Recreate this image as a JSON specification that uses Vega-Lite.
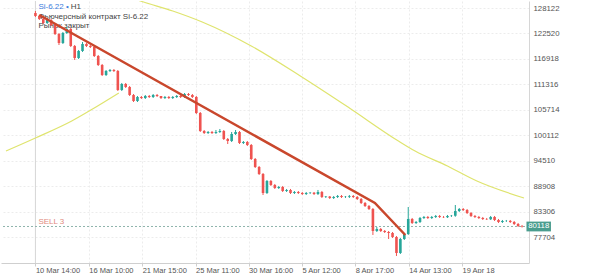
{
"$schema":"https://vega.github.io/schema/vega-lite/v6.json",
"width":528,"height":262,"padding":0,"autosize":{"type":"pad"},
"background":"white",
"config":{"view":{"stroke":null},"font":"Liberation Sans",
 "axis":{"labelOverlap":false,"labelFlush":false,"gridColor":"#ececec","gridDash":[2,2],"grid":true,"title":null,"labelColor":"#555555"},
 "axisY":{"labelOverlap":false,"labelFontSize":7.8,"labelPadding":4,"ticks":false,"domainColor":"#d6d6d6"},
 "axisX":{"labelOverlap":false,"labelFontSize":7.5,"labelPadding":0,"tickSize":3,"tickColor":"#cfcfcf","domainColor":"#cfcfcf"}},
"datasets":{
"candles":[
{"i":0,"o":127020,"h":127460,"l":126150,"c":126370},
{"i":1,"o":126370,"h":126600,"l":125490,"c":125710},
{"i":2,"o":125710,"h":125930,"l":124600,"c":124830},
{"i":3,"o":124830,"h":125710,"l":124610,"c":125490},
{"i":4,"o":125490,"h":125700,"l":124170,"c":124390},
{"i":5,"o":124390,"h":124600,"l":122190,"c":122410},
{"i":6,"o":122410,"h":122630,"l":119990,"c":120430},
{"i":7,"o":120430,"h":122850,"l":120210,"c":122630},
{"i":8,"o":122630,"h":123950,"l":122410,"c":123510},
{"i":9,"o":123510,"h":123730,"l":119550,"c":119770},
{"i":10,"o":119770,"h":119990,"l":116700,"c":117140},
{"i":11,"o":117140,"h":118900,"l":116920,"c":118680},
{"i":12,"o":118680,"h":120650,"l":118460,"c":120210},
{"i":13,"o":120210,"h":120430,"l":119550,"c":119770},
{"i":14,"o":119770,"h":119990,"l":119330,"c":119550},
{"i":15,"o":119550,"h":119770,"l":117360,"c":117580},
{"i":16,"o":117580,"h":117800,"l":115380,"c":115600},
{"i":17,"o":115600,"h":115820,"l":113180,"c":113400},
{"i":18,"o":113400,"h":114500,"l":113180,"c":114280},
{"i":19,"o":114280,"h":114720,"l":114060,"c":114500},
{"i":20,"o":114500,"h":114720,"l":114060,"c":114280},
{"i":21,"o":114280,"h":114500,"l":109890,"c":110110},
{"i":22,"o":110110,"h":111650,"l":109890,"c":111430},
{"i":23,"o":111430,"h":111650,"l":110550,"c":110770},
{"i":24,"o":110770,"h":110990,"l":108790,"c":109010},
{"i":25,"o":109010,"h":109230,"l":107470,"c":107690},
{"i":26,"o":107690,"h":108790,"l":107470,"c":108570},
{"i":27,"o":108570,"h":108790,"l":108130,"c":108350},
{"i":28,"o":108350,"h":109010,"l":108130,"c":108790},
{"i":29,"o":108790,"h":109010,"l":108350,"c":108570},
{"i":30,"o":108570,"h":109230,"l":108350,"c":109010},
{"i":31,"o":109010,"h":109230,"l":108570,"c":108790},
{"i":32,"o":108790,"h":108790,"l":108130,"c":108350},
{"i":33,"o":108350,"h":108790,"l":108130,"c":108570},
{"i":34,"o":108570,"h":108790,"l":108130,"c":108350},
{"i":35,"o":108350,"h":108790,"l":108130,"c":108570},
{"i":36,"o":108570,"h":109010,"l":108350,"c":108790},
{"i":37,"o":108790,"h":109010,"l":108350,"c":108570},
{"i":38,"o":108570,"h":109450,"l":108350,"c":109230},
{"i":39,"o":109230,"h":109450,"l":108790,"c":109010},
{"i":40,"o":109010,"h":109230,"l":108350,"c":108570},
{"i":41,"o":108570,"h":108790,"l":104830,"c":105050},
{"i":42,"o":105050,"h":105270,"l":100880,"c":101100},
{"i":43,"o":101100,"h":101320,"l":100440,"c":100660},
{"i":44,"o":100660,"h":101100,"l":100440,"c":100880},
{"i":45,"o":100880,"h":101100,"l":100440,"c":100660},
{"i":46,"o":100660,"h":101320,"l":100440,"c":100880},
{"i":47,"o":100880,"h":101540,"l":100660,"c":101100},
{"i":48,"o":101100,"h":101320,"l":99120,"c":99340},
{"i":49,"o":99340,"h":99560,"l":98240,"c":98900},
{"i":50,"o":98900,"h":100880,"l":98680,"c":100440},
{"i":51,"o":100440,"h":101320,"l":100220,"c":100880},
{"i":52,"o":100880,"h":101100,"l":98240,"c":98460},
{"i":53,"o":98460,"h":98900,"l":98240,"c":98680},
{"i":54,"o":98680,"h":98900,"l":97800,"c":98020},
{"i":55,"o":98020,"h":98240,"l":94730,"c":94950},
{"i":56,"o":94950,"h":95170,"l":92970,"c":93190},
{"i":57,"o":93190,"h":93410,"l":91430,"c":91650},
{"i":58,"o":91650,"h":91870,"l":87040,"c":87480},
{"i":59,"o":87480,"h":90330,"l":87260,"c":90110},
{"i":60,"o":90110,"h":90330,"l":89020,"c":89240},
{"i":61,"o":89240,"h":89460,"l":88360,"c":88580},
{"i":62,"o":88580,"h":89020,"l":88360,"c":88800},
{"i":63,"o":88800,"h":89020,"l":87700,"c":87920},
{"i":64,"o":87920,"h":88360,"l":87700,"c":88140},
{"i":65,"o":88140,"h":88360,"l":87260,"c":87480},
{"i":66,"o":87480,"h":87920,"l":87260,"c":87700},
{"i":67,"o":87700,"h":87920,"l":87260,"c":87480},
{"i":68,"o":87480,"h":87700,"l":87040,"c":87260},
{"i":69,"o":87260,"h":87700,"l":87040,"c":87480},
{"i":70,"o":87480,"h":87700,"l":87260,"c":87540},
{"i":71,"o":87540,"h":87700,"l":87040,"c":87260},
{"i":72,"o":87260,"h":88140,"l":87040,"c":87700},
{"i":73,"o":87700,"h":87920,"l":86380,"c":86600},
{"i":74,"o":86600,"h":86820,"l":86380,"c":86700},
{"i":75,"o":86700,"h":86820,"l":86160,"c":86380},
{"i":76,"o":86380,"h":86820,"l":86160,"c":86600},
{"i":77,"o":86600,"h":87040,"l":86380,"c":86820},
{"i":78,"o":86820,"h":87040,"l":86380,"c":86600},
{"i":79,"o":86600,"h":86820,"l":86380,"c":86650},
{"i":80,"o":86650,"h":87040,"l":86380,"c":86820},
{"i":81,"o":86820,"h":87040,"l":86380,"c":86600},
{"i":82,"o":86600,"h":86820,"l":85940,"c":86160},
{"i":83,"o":86160,"h":86380,"l":85060,"c":85280},
{"i":84,"o":85280,"h":85500,"l":84400,"c":84620},
{"i":85,"o":84620,"h":84840,"l":83740,"c":83960},
{"i":86,"o":83960,"h":84180,"l":78250,"c":79130},
{"i":87,"o":79130,"h":80010,"l":78910,"c":79570},
{"i":88,"o":79570,"h":79790,"l":78910,"c":79130},
{"i":89,"o":79130,"h":79350,"l":78690,"c":78910},
{"i":90,"o":78910,"h":79130,"l":77370,"c":78690},
{"i":91,"o":78690,"h":78910,"l":77590,"c":77810},
{"i":92,"o":77810,"h":78030,"l":73640,"c":74300},
{"i":93,"o":74300,"h":77590,"l":74080,"c":77370},
{"i":94,"o":77370,"h":78690,"l":77150,"c":78470},
{"i":95,"o":78470,"h":84400,"l":78250,"c":81770},
{"i":96,"o":81770,"h":81990,"l":80670,"c":80890},
{"i":97,"o":80890,"h":81330,"l":80670,"c":81110},
{"i":98,"o":81110,"h":82210,"l":80890,"c":81990},
{"i":99,"o":81990,"h":82430,"l":81770,"c":82210},
{"i":100,"o":82210,"h":82430,"l":81770,"c":81990},
{"i":101,"o":81990,"h":82430,"l":81770,"c":82210},
{"i":102,"o":82210,"h":82650,"l":81990,"c":82420},
{"i":103,"o":82420,"h":82650,"l":81990,"c":82210},
{"i":104,"o":82210,"h":82430,"l":81990,"c":82150},
{"i":105,"o":82150,"h":82650,"l":81990,"c":82420},
{"i":106,"o":82420,"h":82650,"l":82210,"c":82480},
{"i":107,"o":82480,"h":84840,"l":82260,"c":83520},
{"i":108,"o":83520,"h":84180,"l":83300,"c":83960},
{"i":109,"o":83960,"h":84180,"l":83520,"c":83740},
{"i":110,"o":83740,"h":83960,"l":82860,"c":83080},
{"i":111,"o":83080,"h":83300,"l":82210,"c":82420},
{"i":112,"o":82420,"h":82650,"l":81990,"c":82210},
{"i":113,"o":82210,"h":82430,"l":81770,"c":81990},
{"i":114,"o":81990,"h":82210,"l":81550,"c":81770},
{"i":115,"o":81770,"h":81990,"l":81550,"c":81700},
{"i":116,"o":81700,"h":82430,"l":81550,"c":82210},
{"i":117,"o":82210,"h":82430,"l":81330,"c":81550},
{"i":118,"o":81550,"h":81770,"l":80890,"c":81110},
{"i":119,"o":81110,"h":81550,"l":80890,"c":81330},
{"i":120,"o":81330,"h":81550,"l":81110,"c":81350},
{"i":121,"o":81350,"h":81550,"l":80890,"c":81110},
{"i":122,"o":81110,"h":81330,"l":80450,"c":80670},
{"i":123,"o":80670,"h":80890,"l":80010,"c":80230},
{"i":124,"o":80230,"h":80450,"l":79900,"c":80118}
],
"ma":[
{"s":"lo","i":-7.5,"p":96705},
{"s":"lo","i":0,"p":99561},
{"s":"lo","i":9.25,"p":103296},
{"s":"lo","i":15,"p":106152},
{"s":"lo","i":21.25,"p":109448},
{"s":"hi","i":20,"p":131857},
{"s":"hi","i":26.75,"p":129660},
{"s":"hi","i":35,"p":127463},
{"s":"hi","i":42.5,"p":125046},
{"s":"hi","i":55,"p":119774},
{"s":"hi","i":67.5,"p":113183},
{"s":"hi","i":80,"p":106152},
{"s":"hi","i":92.5,"p":98902},
{"s":"hi","i":96.75,"p":96705},
{"s":"hi","i":105,"p":93410},
{"s":"hi","i":112.5,"p":90114},
{"s":"hi","i":124.5,"p":86379}
],
"trend":[
{"i":1,"p":126584},
{"i":86.5,"p":85281},
{"i":94.25,"p":78251}
]
},
"encoding":{
 "x":{"field":"i","type":"quantitative","scale":{"domain":[-7.5,124.5],"nice":false,"zero":false},
  "axis":{"orient":"bottom","values":[0,13.6,27.2,40.8,54.3,67.9,81.5,95.1,108.7],
   "labelExpr":"['10 Mar 14:00','16 Mar 10:00','21 Mar 15:00','25 Mar 11:00','30 Mar 16:00','5 Apr 12:00','8 Apr 17:00','14 Apr 13:00','19 Apr 18'][round(datum.value/13.59)]",
   "labelAlign":"left","labelBaseline":"top","labelOverlap":false}},
 "y":{"field":"p","type":"quantitative","scale":{"domain":[72098,129660],"nice":false,"zero":false},
  "axis":{"orient":"right","values":[77704,83306,88908,94510,100112,105714,111316,116918,122520,128122],"format":"d","labelOverlap":false}}
},
"layer":[
{"data":{"values":[{"i":0}]},"mark":{"type":"rule","color":"#d6d6d6","strokeWidth":1},
 "encoding":{"y":null}},
{"data":{"values":[{"i":0.75,"p":128342,"t":"Si-6.22 •"}]},"mark":{"type":"text","align":"left","baseline":"middle","fontSize":8,"color":"#3b7ddd"},
 "encoding":{"text":{"field":"t"}}},
{"data":{"values":[{"i":9,"p":128342,"t":"H1"},{"i":0.75,"p":126145,"t":"Фьючерсный контракт Si-6.22"},{"i":0.75,"p":124167,"t":"Рынок закрыт"}]},
 "mark":{"type":"text","align":"left","baseline":"middle","fontSize":8,"color":"#444444"},
 "encoding":{"text":{"field":"t"}}},
{"data":{"values":[{"i":0.75,"p":81106,"t":"SELL 3"}]},"mark":{"type":"text","align":"left","baseline":"middle","fontSize":8,"color":"#df8a7e"},
 "encoding":{"text":{"field":"t"}}},
{"data":{"name":"ma"},"mark":{"type":"line","color":"#dfe46e","strokeWidth":1.2,"clip":true,"interpolate":"monotone"},
 "encoding":{"detail":{"field":"s"},"order":{"field":"i"}}},
{"data":{"values":[{"p":80118}]},"mark":{"type":"rule","color":"#8fb5ad","strokeWidth":1,"strokeDash":[2,2]},
 "encoding":{"x":null}},
{"data":{"name":"candles"},"mark":{"type":"rule","strokeWidth":1},
 "encoding":{"y":{"field":"l","type":"quantitative"},"y2":{"field":"h"},
  "color":{"condition":{"test":"datum.c >= datum.o","value":"#26a69a"},"value":"#ef5350"}}},
{"data":{"name":"candles"},"mark":{"type":"bar","size":2.6,"orient":"vertical"},
 "encoding":{"y":{"field":"o","type":"quantitative"},"y2":{"field":"c"},
  "color":{"condition":{"test":"datum.c >= datum.o","value":"#26a69a"},"value":"#ef5350"}}},
{"data":{"name":"trend"},"mark":{"type":"line","color":"#c9472c","strokeWidth":2.5},
 "encoding":{"order":{"field":"i"}}},
{"data":{"values":[{"i":128.25,"p":80118}]},"mark":{"type":"point","shape":"M-1,-0.4H1V0.4H-1Z","size":600,"filled":true,"color":"#4a9d8e","opacity":1,"clip":false}},
{"data":{"values":[{"i":128.25,"p":80118,"t":"80118"}]},"mark":{"type":"text","fontSize":7.8,"color":"white","align":"center","baseline":"middle"},
 "encoding":{"text":{"field":"t"}}}
]
}
